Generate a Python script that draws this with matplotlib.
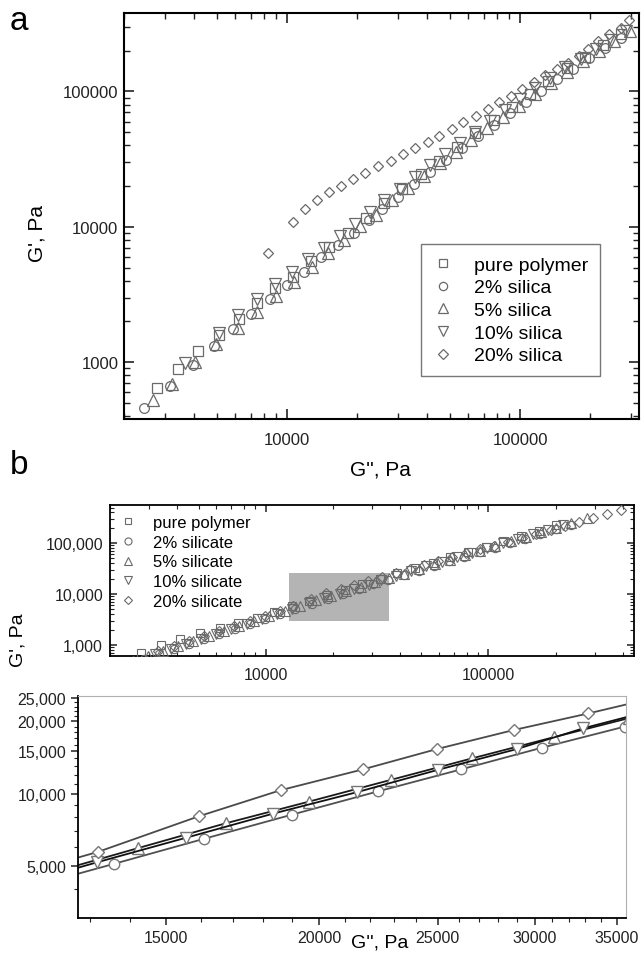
import matplotlib
matplotlib.use("Agg")
import matplotlib.pyplot as plt
from matplotlib.patches import Rectangle
from matplotlib.ticker import FixedLocator, FixedFormatter, NullFormatter

plt.rcParams['font.family'] = ['Liberation Sans', 'DejaVu Sans']

# ---------------- panel a data (G'' , G') ----------------
a_sq_x = [2761, 3400, 4147, 5093, 6230, 7450, 8877, 10610, 12700, 15200, 18200, 21800, 26100, 31300,
          37500, 44900, 53800, 64400, 77100, 92300, 110500, 132300, 158400, 189700, 227100, 272000]
a_sq_y = [645, 887, 1206, 1585, 2070, 2720, 3513, 4286, 5560, 7140, 9060, 11570, 15060, 19170,
          24370, 30850, 39030, 49030, 61190, 76390, 95340, 119000, 148300, 180500, 219700, 267700]

a_ci_x = [2435, 3152, 3947, 4846, 5851, 7040, 8420, 10030, 11840, 14060, 16480, 19320, 22420, 25500,
          29900, 35000, 41000, 48000, 56200, 65800, 77000, 90200, 105600, 123600, 144700, 169400,
          198300, 232000, 271600]
a_ci_y = [462, 668, 950, 1314, 1756, 2268, 2945, 3698, 4642, 5962, 7356, 9078, 11140, 13520,
          16710, 20580, 25380, 31170, 38240, 46600, 56590, 68770, 83480, 101300, 123100, 147700,
          175500, 208200, 247600]

a_tr_x = [2671, 3215, 4039, 4976, 6148, 7403, 8935, 10720, 12860, 15070, 17610, 20640, 24110, 28200,
          33000, 38600, 45200, 52900, 61900, 72400, 84700, 99100, 116000, 135700, 158800, 185800,
          217400, 254300, 297500]
a_tr_y = [529, 695, 1000, 1352, 1796, 2333, 3100, 3936, 5025, 6383, 8013, 10060, 12270, 15800,
          19400, 23900, 29400, 36000, 44100, 53500, 64900, 78700, 95600, 116000, 140400, 166700,
          197900, 235000, 279000]

a_it_x = [3658, 5093, 6148, 7403, 8846, 10540, 12360, 14440, 16920, 19570, 22790, 26190, 30400, 35300,
          41000, 47600, 55200, 64100, 74400, 86300, 100200, 116300, 135000, 156700, 181900, 211100,
          245000, 284000]
a_it_y = [994, 1649, 2229, 2912, 3783, 4615, 5827, 7030, 8577, 10530, 12770, 15670, 19100, 23300,
          28400, 34500, 41800, 50600, 60700, 72900, 87600, 105300, 126500, 152000, 172400, 206600,
          238700, 278000]

a_di_x = [8300, 10580, 11960, 13420, 15170, 17090, 19250, 21690, 24520, 27860, 31480, 35560, 40180,
          45050, 50910, 57070, 64420, 72550, 81300, 91100, 101700, 114900, 128200, 143800, 161100,
          178300, 196600, 216000, 242000, 270000, 293000]
a_di_y = [6380, 10770, 13520, 15670, 17960, 20120, 22420, 24980, 27990, 30680, 34580, 38490, 42380,
          47170, 52890, 59240, 66430, 74430, 83400, 92300, 104700, 117300, 131400, 145600, 163300,
          182900, 207200, 236000, 264500, 296500, 339000]

a_labels = ["pure polymer", "2% silica", "5% silica", "10% silica", "20% silica"]

# ---------------- panel b data ----------------
b_sq_x = [2763, 3373, 4120, 5058, 6208, 7516, 9100, 10900, 13100, 15700, 18800, 22600, 27100, 32500,
          39000, 46800, 56200, 67400, 80900, 97100, 116500, 139800, 167800, 201300]
b_sq_y = [700, 993, 1318, 1726, 2188, 2730, 3467, 4448, 5733, 7359, 9437, 12170, 15630, 20080,
          25540, 32490, 41380, 52590, 66930, 85150, 108300, 137800, 175300, 223000]

b_ci_x = [2830, 3310, 3870, 4530, 5300, 6200, 7260, 8490, 9930, 11620, 13600, 16114, 19006, 22320,
          26122, 30432, 35563, 41600, 48700, 57000, 66700, 78000, 91300, 106800, 125000, 146200,
          171000, 200100, 234100]
b_ci_y = [524, 657, 824, 1036, 1300, 1632, 2052, 2575, 3283, 4091, 5099, 6486, 8173, 10200,
          12612, 15540, 19025, 23400, 28810, 35460, 43640, 53650, 66040, 81230, 100000, 123000,
          151200, 186100, 228900]

b_tr_x = [2530, 2960, 3460, 4050, 4740, 5550, 6490, 7590, 8880, 10390, 12160, 14229, 16769, 19630,
          22909, 26670, 31090, 35800, 41900, 49000, 57300, 67100, 78500, 91800, 107400, 125700,
          147100, 172100, 201400, 235600, 275700]
b_tr_y = [485, 608, 763, 959, 1204, 1514, 1900, 2384, 2994, 3759, 4722, 5930, 7516, 9265,
          11418, 14022, 17166, 20607, 25360, 31190, 38340, 47230, 58100, 71410, 87870, 108100,
          133100, 163700, 201500, 247800, 305000]

b_it_x = [3200, 3750, 4380, 5130, 6000, 7020, 8210, 9610, 11240, 13150, 15568, 18342, 21470, 25030,
          29020, 32880, 38500, 45000, 52700, 61700, 72200, 84500, 98900, 115700, 135400, 158400,
          185300, 216800]
b_it_y = [665, 837, 1048, 1318, 1655, 2078, 2607, 3276, 4112, 5162, 6546, 8253, 10134, 12573,
          15333, 18711, 23040, 28310, 34880, 42950, 52850, 65040, 80060, 98480, 121200, 149100,
          183400, 225600]

b_di_x = [3300, 3860, 4520, 5290, 6190, 7240, 8470, 9910, 11600, 13199, 15944, 18597, 21713, 24965,
          28862, 33183, 38500, 44500, 51500, 59500, 68800, 79500, 92000, 106000, 123000, 142000,
          164000, 190000, 220000, 254000, 294000, 340000, 393000]
b_di_y = [770, 970, 1220, 1530, 1920, 2400, 3010, 3780, 4740, 5723, 8042, 10328, 12612, 15333,
          18414, 21564, 25800, 30900, 36900, 44100, 52700, 63000, 75300, 89700, 107000, 128000,
          153000, 183000, 218000, 261000, 311000, 372000, 445000]

b_labels = ["pure polymer", "2% silicate", "5% silicate", "10% silicate", "20% silicate"]

# zoomed window shown in the lower panel (and as grey box above)
zoom_x = (12700, 35600)
zoom_y = (3030, 25500)

markers = ['s', 'o', '^', 'v', 'D']
edge = '#6a6a6a'

fig = plt.figure(figsize=(6.42, 9.54), dpi=100)

# ======================= panel a =======================
ax = fig.add_axes([0.1931, 0.5597, 0.8022, 0.4256])
a_sets = [(a_sq_x, a_sq_y), (a_ci_x, a_ci_y), (a_tr_x, a_tr_y), (a_it_x, a_it_y), (a_di_x, a_di_y)]
a_ms = [6.5, 7, 8, 8, 5.6]
for (xs, ys), m, ms, lab in zip(a_sets, markers, a_ms, a_labels):
    ax.plot(xs, ys, linestyle='none', marker=m, ms=ms, mfc='none', mec=edge, mew=0.9, label=lab)
ax.set_xscale('log')
ax.set_yscale('log')
ax.set_xlim(1997, 324000)
ax.set_ylim(380, 380000)
ax.set_xticks([10000, 100000], ['10000', '100000'])
ax.set_yticks([1000, 10000, 100000], ['1000', '10000', '100000'])
ax.xaxis.set_minor_formatter(NullFormatter())
ax.yaxis.set_minor_formatter(NullFormatter())
ax.tick_params(which='both', direction='in', top=True, right=True, labelsize=12, colors='#222222')
ax.tick_params(which='major', length=7, width=1.2)
ax.tick_params(which='minor', length=4, width=1.0)
ax.tick_params(axis='x', which='major', pad=9)
ax.tick_params(axis='y', which='major', pad=4)
for s in ax.spines.values():
    s.set_linewidth(1.5)
leg = ax.legend(loc='lower right', bbox_to_anchor=(0.944, 0.081), fontsize=14, frameon=True,
                fancybox=False, edgecolor='#555555', handlelength=1.0, handletextpad=1.1,
                labelspacing=0.26, borderpad=0.62, markerscale=0.85)
leg.get_frame().set_linewidth(1.0)
fig.text(37 / 642, 1 - 233 / 954, "G', Pa", rotation=90, fontsize=15, ha='center', va='center')
fig.text(380 / 642, 1 - 470 / 954, "G'', Pa", fontsize=15, ha='center', va='center')
fig.text(10 / 642, 1 - 22 / 954, "a", fontsize=24, ha='left', va='center')

# ======================= panel b (top) =======================
bx = fig.add_axes([0.1713, 0.3113, 0.8162, 0.1583])
b_sets = [(b_sq_x, b_sq_y), (b_ci_x, b_ci_y), (b_tr_x, b_tr_y), (b_it_x, b_it_y), (b_di_x, b_di_y)]
b_ms = [5.5, 6, 6.5, 6.5, 4.6]
bx.add_patch(Rectangle((zoom_x[0], zoom_y[0]), zoom_x[1] - zoom_x[0], zoom_y[1] - zoom_y[0],
                       facecolor='#b4b4b4', edgecolor='none', zorder=1))
for (xs, ys), m, ms, lab in zip(b_sets, markers, b_ms, b_labels):
    bx.plot(xs, ys, linestyle='none', marker=m, ms=ms, mfc='none', mec=edge, mew=0.8, label=lab,
            zorder=3)
bx.set_xscale('log')
bx.set_yscale('log')
bx.set_xlim(2000, 450000)
bx.set_ylim(610, 560000)
bx.set_xticks([10000, 100000], ['10000', '100000'])
bx.set_yticks([1000, 10000, 100000], ['1,000', '10,000', '100,000'])
bx.xaxis.set_minor_formatter(NullFormatter())
bx.yaxis.set_minor_formatter(NullFormatter())
bx.tick_params(which='both', direction='in', top=True, right=True, labelsize=11.5, colors='#222222')
bx.tick_params(which='major', length=5, width=1.1)
bx.tick_params(which='minor', length=3, width=0.8)
bx.tick_params(axis='x', which='major', pad=8)
bx.tick_params(axis='y', which='major', pad=5)
for s in bx.spines.values():
    s.set_linewidth(1.3)
bx.legend(loc='upper left', fontsize=12, frameon=False, handlelength=1.0, handletextpad=1.0,
          labelspacing=0.28, borderaxespad=0.3, borderpad=0.3, markerscale=0.85)
fig.text(10 / 642, 1 - 466 / 954, "b", fontsize=24, ha='left', va='center')
fig.text(18 / 642, 1 - 640 / 954, "G', Pa", rotation=90, fontsize=14, ha='center', va='center')

# ======================= panel b (zoom) =======================
cx = fig.add_axes([0.1215, 0.0367, 0.853, 0.2327])
line_cols = ['#505050', '#1a1a1a', '#111111', '#4a4a4a']
zoom_sets = [(b_ci_x, b_ci_y, 'o', 7.5), (b_tr_x, b_tr_y, '^', 8.5), (b_it_x, b_it_y, 'v', 8.5),
             (b_di_x, b_di_y, 'D', 6.2)]
for (xs, ys, m, ms), lc in zip(zoom_sets, line_cols):
    cx.plot(xs, ys, color=lc, lw=1.3, marker=m, ms=ms, mfc='white', mec='#777777', mew=1.0)
cx.set_xscale('log')
cx.set_yscale('log')
cx.set_xlim(*zoom_x)
cx.set_ylim(*zoom_y)
cx.xaxis.set_major_locator(FixedLocator([15000, 20000, 25000, 30000, 35000]))
cx.xaxis.set_major_formatter(FixedFormatter(['15000', '20000', '25000', '30000', '35000']))
cx.xaxis.set_minor_locator(FixedLocator(list(range(13000, 36000, 1000))))
cx.yaxis.set_major_locator(FixedLocator([5000, 10000, 15000, 20000, 25000]))
cx.yaxis.set_major_formatter(FixedFormatter(['5,000', '10,000', '15,000', '20,000', '25,000']))
cx.yaxis.set_minor_locator(FixedLocator(list(range(3000, 26000, 1000))))
cx.xaxis.set_minor_formatter(NullFormatter())
cx.yaxis.set_minor_formatter(NullFormatter())
cx.tick_params(which='both', direction='out', labelsize=11.5, colors='#222222')
cx.tick_params(which='major', length=5, width=1.1)
cx.tick_params(which='minor', length=3, width=0.8)
cx.spines['left'].set_linewidth(1.3)
cx.spines['bottom'].set_linewidth(1.3)
cx.spines['top'].set_color('#b0b0b0')
cx.spines['right'].set_color('#b0b0b0')
cx.spines['top'].set_linewidth(0.8)
cx.spines['right'].set_linewidth(0.8)
fig.text(380 / 642, 1 - 943 / 954, "G'', Pa", fontsize=14, ha='center', va='center')

fig.savefig("out.png", dpi=100)
